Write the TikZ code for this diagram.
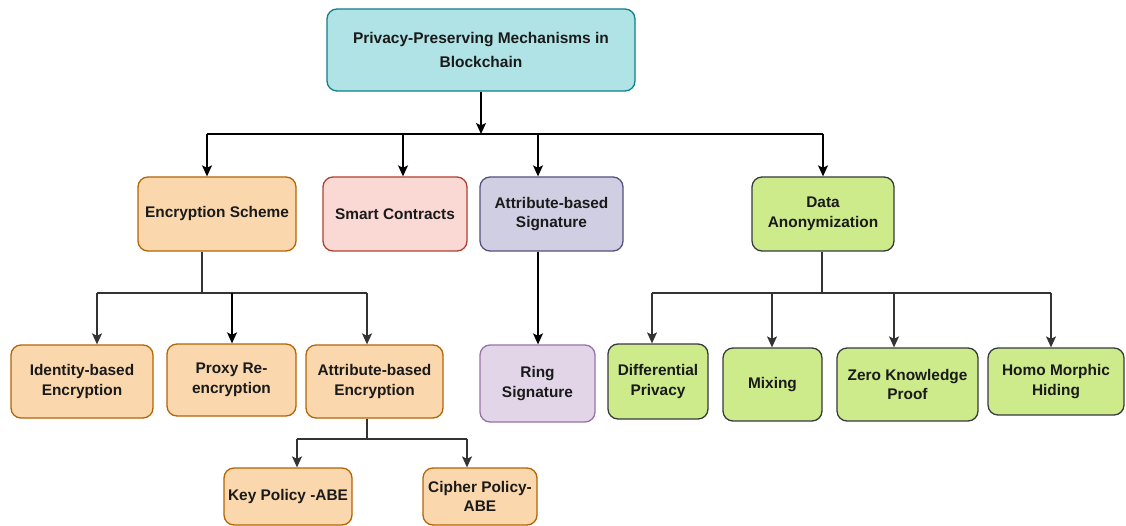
\documentclass[tikz,border=0pt]{standalone}
\usepackage{fontspec}
\setmainfont{Liberation Sans}
\usetikzlibrary{arrows.meta}

\definecolor{rootFill}{HTML}{B0E3E6}
\definecolor{rootLine}{HTML}{0E8088}
\definecolor{orFill}{HTML}{FAD7AC}
\definecolor{orLine}{HTML}{B46504}
\definecolor{rdFill}{HTML}{FAD9D5}
\definecolor{rdLine}{HTML}{AE4132}
\definecolor{blFill}{HTML}{D0CEE2}
\definecolor{blLine}{HTML}{56517E}
\definecolor{puFill}{HTML}{E1D5E7}
\definecolor{puLine}{HTML}{9673A6}
\definecolor{grFill}{HTML}{CDEB8B}
\definecolor{grLine}{HTML}{36393D}
\definecolor{wire}{HTML}{333333}
\definecolor{ink}{HTML}{1A1A1A}

\tikzset{
  box/.style={rounded corners=10pt, line width=1.3pt, align=center,
    inner sep=2pt, text=ink,
    font=\bfseries\fontsize{15.4}{19.5}\selectfont},
  orange/.style={box, fill=orFill, draw=orLine},
  green/.style={box, fill=grFill, draw=grLine},
  link/.style={line width=1.3pt, draw=black},
  sublink/.style={line width=1.3pt, draw=wire},
  arr/.style={-{Stealth[length=11pt,width=10pt,inset=2.5pt]}}
}

\begin{document}
\begin{tikzpicture}[x=1pt,y=-1pt]
\useasboundingbox[fill=white] (0,0) rectangle (1126,526);

% root
\node[box, fill=rootFill, draw=rootLine, minimum width=308pt, minimum height=82pt,
  font=\bfseries\fontsize{15.5}{23.5}\selectfont] (root) at (481,50)
  {Privacy-Preserving Mechanisms in\\Blockchain};

% second level
\node[orange, minimum width=158pt, minimum height=74pt] (enc) at (217,214) {Encryption Scheme};
\node[box, fill=rdFill, draw=rdLine, minimum width=144pt, minimum height=74pt] (smart) at (395,214) {Smart Contracts};
\node[box, fill=blFill, draw=blLine, minimum width=143pt, minimum height=74pt] (asig) at (551.5,214) {Attribute-based\\Signature};
\node[green, minimum width=142pt, minimum height=74pt] (data) at (823,214) {Data\\Anonymization};

% encryption schemes
\node[orange, minimum width=142pt, minimum height=73pt] (ident) at (82,381.5) {Identity-based\\Encryption};
\node[orange, minimum width=129pt, minimum height=72pt] (proxy) at (231.5,380) {Proxy Re-\\encryption};
\node[orange, minimum width=137pt, minimum height=73pt] (abe) at (374.5,381.5) {Attribute-based\\Encryption};
\node[orange, minimum width=128pt, minimum height=57pt] (kp) at (288,496.5) {Key Policy -ABE};
\node[orange, minimum width=114pt, minimum height=57pt] (cp) at (480,496.5) {Cipher Policy-\\ABE};

% signatures
\node[box, fill=puFill, draw=puLine, minimum width=115pt, minimum height=77pt] (ring) at (537.5,383.5) {Ring\\Signature};

% anonymization techniques
\node[green, minimum width=100pt, minimum height=75pt] (diff) at (658,381.5) {Differential\\Privacy};
\node[green, minimum width=99pt, minimum height=73pt] (mix) at (772.5,384.5) {Mixing};
\node[green, minimum width=141pt, minimum height=73pt] (zkp) at (907.5,384.5) {Zero Knowledge\\Proof};
\node[green, minimum width=136pt, minimum height=67pt] (homo) at (1056,381.5) {Homo Morphic\\Hiding};

% root fan-out
\coordinate (hub) at (481,134);
\coordinate (b1) at (207,134);
\coordinate (b2) at (403,134);
\coordinate (b3) at (538,134);
\coordinate (b4) at (823,134);
\draw[link, arr] (root.south) -- (hub);
\draw[link] (b1) -- (b4);
\draw[link, arr] (b1) -- (b1 |- enc.north);
\draw[link, arr] (b2) -- (b2 |- smart.north);
\draw[link, arr] (b3) -- (b3 |- asig.north);
\draw[link, arr] (b4) -- (b4 |- data.north);

% encryption scheme fan-out
\coordinate (e0) at (202,293);
\coordinate (e1) at (97,293);
\coordinate (e2) at (232,293);
\coordinate (e3) at (367,293);
\draw[sublink] (e0 |- enc.south) -- (e0);
\draw[sublink] (e1) -- (e3);
\draw[sublink, arr] (e1) -- (e1 |- ident.north);
\draw[link, arr] (e2) -- (e2 |- proxy.north);
\draw[sublink, arr] (e3) -- (e3 |- abe.north);

% attribute-based encryption fan-out
\coordinate (a0) at (367,439);
\coordinate (a1) at (297,439);
\coordinate (a2) at (467,439);
\draw[sublink] (a0 |- abe.south) -- (a0);
\draw[sublink] (a1) -- (a2);
\draw[sublink, arr] (a1) -- (a1 |- kp.north);
\draw[sublink, arr] (a2) -- (a2 |- cp.north);

% signature
\draw[link, arr] (asig.south -| b3) -- (b3 |- ring.north);

% anonymization fan-out
\coordinate (d0) at (822,293);
\coordinate (d1) at (652,293);
\coordinate (d2) at (772,293);
\coordinate (d3) at (894,293);
\coordinate (d4) at (1051,293);
\draw[sublink] (d0 |- data.south) -- (d0);
\draw[sublink] (d1) -- (d4);
\draw[sublink, arr] (d1) -- (d1 |- diff.north);
\draw[sublink, arr] (d2) -- (d2 |- mix.north);
\draw[sublink, arr] (d3) -- (d3 |- zkp.north);
\draw[sublink, arr] (d4) -- (d4 |- homo.north);
\end{tikzpicture}
\end{document}
